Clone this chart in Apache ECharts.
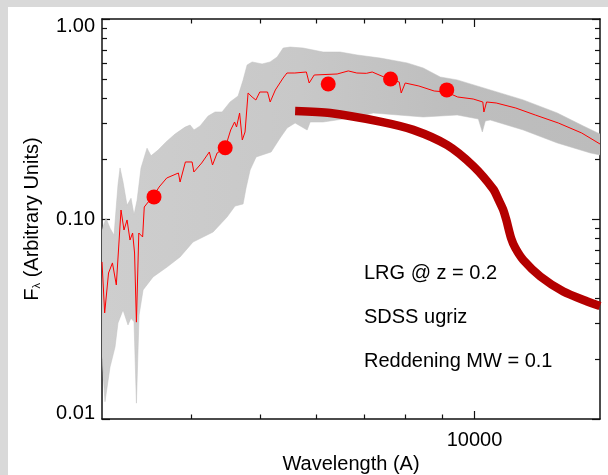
<!DOCTYPE html>
<html><head><meta charset="utf-8">
<script src="https://cdn.jsdelivr.net/npm/echarts@6/dist/echarts.min.js"></script>
<style>html,body{margin:0;padding:0;background:#d9d9d9}#c{width:608px;height:475px}</style>
</head><body><div id="c"></div>
<script>
// ---- axis ranges & ticks ----
const xMin = 3000, xMax = 15000;
const yMin = 0.01, yMax = 1;
const xMajorTicks = [10000];
const xMinorTicks = [4000, 5000, 6000, 7000, 8000, 9000];
const xLabels = [10000];
const yMajorTicks = [0.01, 0.1, 1];
const yMinorTicks = [0.02, 0.03, 0.04, 0.05, 0.06, 0.07, 0.08, 0.09, 0.2, 0.3, 0.4, 0.5, 0.6, 0.7, 0.8, 0.9];
const yLabels = [0.01, 0.1, 1];
const xName = 'Wavelength (A)';
const yName = '{a|F}{b|λ}{a| (Arbitrary Units)}';
const notes = ['LRG @ z = 0.2', 'SDSS ugriz', 'Reddening MW = 0.1'];

// ---- grey band of redshifted templates (upper / lower envelope) ----
const bandUpper = [[3000,0.088],[3039,0.101],[3079,0.090],[3119,0.083],[3159,0.148],[3180,0.180],[3211,0.153],[3253,0.117],[3295,0.127],[3327,0.105],[3360,0.124],[3403,0.180],[3470,0.226],[3515,0.207],[3596,0.221],[3690,0.243],[3799,0.266],[3924,0.288],[3988,0.295],[4039,0.279],[4119,0.292],[4227,0.327],[4323,0.343],[4422,0.343],[4538,0.385],[4657,0.412],[4733,0.495],[4795,0.589],[4873,0.610],[5033,0.596],[5165,0.610],[5284,0.646],[5387,0.716],[5510,0.724],[5747,0.716],[6131,0.684],[6477,0.684],[6843,0.661],[7373,0.638],[8045,0.603],[8472,0.569],[8952,0.513],[9456,0.496],[10521,0.442],[11705,0.394],[13067,0.339],[14213,0.292],[15000,0.266]];
const bandLower = [[3000,0.0204],[3029,0.0122],[3079,0.0182],[3129,0.0229],[3159,0.0302],[3211,0.0351],[3263,0.0295],[3295,0.0320],[3327,0.0306],[3353,0.0120],[3382,0.0331],[3426,0.0442],[3538,0.0513],[3702,0.0575],[3861,0.0646],[4026,0.0767],[4296,0.0861],[4494,0.1023],[4612,0.1161],[4733,0.1189],[4779,0.1429],[4842,0.1758],[4937,0.2042],[5182,0.2163],[5335,0.2541],[5457,0.2851],[5600,0.3020],[5822,0.2786],[5879,0.3055],[6131,0.3055],[6843,0.3236],[7208,0.3388],[8472,0.3236],[9456,0.3311],[10123,0.3162],[10255,0.2723],[10355,0.3090],[10521,0.3126],[11705,0.2786],[13067,0.2399],[14539,0.2138],[15000,0.2089]];

// ---- LRG spectrum at z = 0.2 ----
const spectrum = [[3000,0.0610],[3026,0.0339],[3064,0.0537],[3103,0.0603],[3142,0.0468],[3190,0.1109],[3221,0.0881],[3253,0.0989],[3284,0.0785],[3312,0.0851],[3333,0.0676],[3353,0.0305],[3379,0.0851],[3421,0.0813],[3439,0.1148],[3474,0.1202],[3550,0.1318],[3608,0.1445],[3698,0.1603],[3840,0.1698],[3861,0.1531],[3928,0.1928],[4014,0.1928],[4037,0.1718],[4140,0.1905],[4244,0.2163],[4288,0.1862],[4352,0.2138],[4466,0.2265],[4547,0.2786],[4605,0.3055],[4634,0.2884],[4680,0.3388],[4721,0.2483],[4763,0.2723],[4810,0.4266],[4873,0.4074],[4933,0.3936],[4996,0.4315],[5122,0.4315],[5166,0.3846],[5253,0.4416],[5387,0.5070],[5454,0.5370],[5594,0.5370],[5807,0.5433],[5860,0.4786],[5956,0.5248],[6415,0.5309],[6650,0.5500],[6835,0.5370],[7050,0.5350],[7184,0.5433],[7461,0.5129],[7839,0.4842],[7890,0.4266],[7993,0.4786],[8353,0.4624],[8778,0.4365],[9125,0.4315],[9469,0.4074],[9957,0.3981],[10271,0.3846],[10307,0.3428],[10397,0.3846],[10726,0.3802],[11425,0.3589],[12169,0.3311],[13109,0.3020],[14139,0.2692],[15000,0.2371]];

// ---- thick dark-red curve ----
const thickCurve = [[5600,0.347],[6271,0.339],[7372,0.307],[8203,0.279],[9157,0.234],[9957,0.184],[10623,0.141],[10810,0.1245],[10973,0.111],[11082,0.0989],[11252,0.0804],[11410,0.0716],[11706,0.0624],[12370,0.0516],[13324,0.0434],[14397,0.0387],[15000,0.0367]];

// ---- ugriz photometry points ----
const filterPoints = [[3549,0.129],[4467,0.227],[6232,0.473],[7623,0.501],[9141,0.442]];

const FONT = 'Liberation Sans';
const AX = '#111';

function xAxisDef(pos, ticks, len, withLine, withLabel) {
  return {
    type: 'log', logBase: 10, min: xMin, max: xMax, position: pos, gridIndex: 0,
    axisLine: { show: withLine, lineStyle: { color: AX, width: 1.5 } },
    axisTick: { show: true, inside: true, length: len, customValues: ticks, lineStyle: { color: AX, width: 1.2 } },
    axisLabel: withLabel ? { show: true, customValues: xLabels, margin: 11, color: '#000', fontSize: 20, fontFamily: FONT, formatter: v => String(Math.round(v)) } : { show: false },
    splitLine: { show: false },
    name: withLabel ? xName : '', nameLocation: 'middle', nameGap: 33,
    nameTextStyle: { color: '#000', fontSize: 20, fontFamily: FONT }
  };
}
function yAxisDef(pos, ticks, len, withLine, withLabel) {
  return {
    type: 'log', logBase: 10, min: yMin, max: yMax, position: pos, gridIndex: 0,
    axisLine: { show: withLine, lineStyle: { color: AX, width: 1.5 } },
    axisTick: { show: true, inside: true, length: len, customValues: ticks, lineStyle: { color: AX, width: 1.2 } },
    axisLabel: withLabel ? {
      show: true, customValues: yLabels, margin: 7, color: '#000', fontSize: 20, fontFamily: FONT,
      formatter: v => { const t = Number(v).toFixed(2); return v >= 0.999 ? '{hi|' + t + '}' : (v <= 0.0101 ? '{lo|' + t + '}' : '{md|' + t + '}'); },
      rich: {
        hi: { fontSize: 20, fontFamily: FONT, color: '#000', padding: [14, 0, 0, 0] },
        lo: { fontSize: 20, fontFamily: FONT, color: '#000', padding: [0, 0, 12, 0] },
        md: { fontSize: 20, fontFamily: FONT, color: '#000' }
      }
    } : { show: false },
    splitLine: { show: false },
    name: withLabel ? yName : '', nameLocation: 'middle', nameGap: 60,
    nameTextStyle: {
      color: '#000', fontSize: 20, fontFamily: FONT,
      rich: {
        a: { fontSize: 20, fontFamily: FONT, color: '#000' },
        b: { fontSize: 11, fontFamily: FONT, color: '#000', verticalAlign: 'bottom' }
      }
    }
  };
}

const bandPoly = bandUpper.concat(bandLower.slice().reverse());

const chart = echarts.init(document.getElementById('c'), null, { renderer: 'canvas' });
chart.setOption({
  animation: false,
  backgroundColor: '#d9d9d9',
  grid: { left: 102, right: 8, top: 19, bottom: 56, containLabel: false, outerBoundsMode: 'none' },
  graphic: [
    { type: 'rect', z: -100, silent: true, shape: { x: 8, y: 7, width: 600, height: 468 }, style: { fill: '#ffffff' } }
  ].concat(notes.map((t, i) => ({
    type: 'text', z: 100, silent: true, x: 364, y: 273 + i * 44,
    style: { text: t, fontSize: 20, fontFamily: FONT, fill: '#000', verticalAlign: 'middle', align: 'left' }
  }))),
  xAxis: [
    xAxisDef('bottom', xMajorTicks, 8, true, true),
    xAxisDef('bottom', xMinorTicks, 4.5, false, false),
    xAxisDef('top', xMajorTicks, 8, true, false),
    xAxisDef('top', xMinorTicks, 4.5, false, false)
  ],
  yAxis: [
    yAxisDef('left', yMajorTicks, 8, true, true),
    yAxisDef('left', yMinorTicks, 5, false, false),
    yAxisDef('right', yMajorTicks, 8, true, false),
    yAxisDef('right', yMinorTicks, 5, false, false)
  ],
  series: [
    {
      type: 'custom', coordinateSystem: 'cartesian2d', xAxisIndex: 0, yAxisIndex: 0, z: 1, silent: true, clip: true,
      data: bandPoly,
      renderItem: function (params, api) {
        if (params.dataIndexInside !== 0) return null;
        const pts = [];
        for (let i = 0; i < params.dataInsideLength; i++) {
          pts.push(api.coord([api.value(0, i), api.value(1, i)]));
        }
        return {
          type: 'polygon', shape: { points: pts },
          style: {
            fill: new echarts.graphic.LinearGradient(0, 0, 1, 0, [
              { offset: 0, color: '#cecece' }, { offset: 0.4, color: '#c8c8c8' },
              { offset: 0.7, color: '#bebebe' }, { offset: 1, color: '#bcbcbc' }
            ]),
            stroke: '#c0c0c0', lineWidth: 0.5
          }
        };
      }
    },
    {
      type: 'line', xAxisIndex: 0, yAxisIndex: 0, z: 2, data: thickCurve, showSymbol: false, smooth: 0.25,
      lineStyle: { color: '#b40000', width: 8.5, cap: 'butt' }, silent: true
    },
    {
      type: 'line', xAxisIndex: 0, yAxisIndex: 0, z: 3, data: spectrum, showSymbol: false,
      lineStyle: { color: '#ff0000', width: 1 }, silent: true
    },
    {
      type: 'scatter', xAxisIndex: 0, yAxisIndex: 0, z: 4, data: filterPoints, symbol: 'circle', symbolSize: 15,
      itemStyle: { color: '#ff0000', opacity: 1 }, silent: true
    }
  ]
});
</script>
</body></html>
